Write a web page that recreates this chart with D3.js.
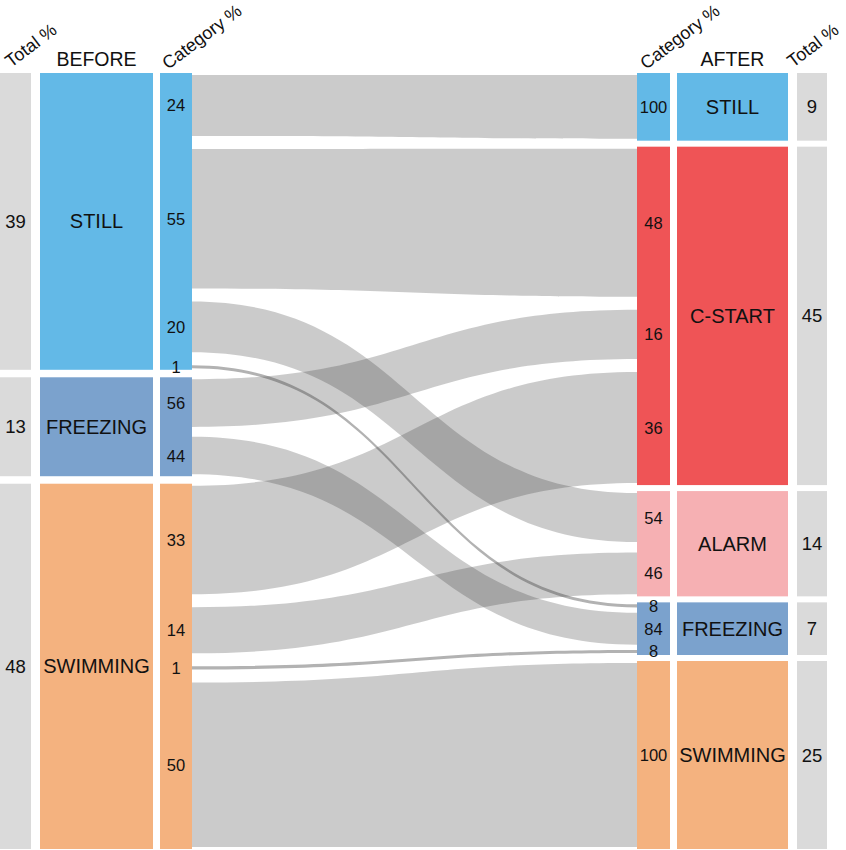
<!DOCTYPE html>
<html>
<head>
<meta charset="utf-8">
<script src="https://cdn.jsdelivr.net/npm/d3@7"></script>
<style>
  html, body { margin: 0; padding: 0; background: #fff; }
  svg { display: block; font-family: "Liberation Sans", Arial, sans-serif; }
</style>
</head>
<body>
<svg id="chart" width="846" height="850"></svg>
<script>
// ---- data ----
const beforeCats = ["STILL", "FREEZING", "SWIMMING"];
const beforeTotals = [39, 13, 48];
const afterCats = ["STILL", "C-START", "ALARM", "FREEZING", "SWIMMING"];
const afterTotals = [9, 45, 14, 7, 25];
const flowSource = ["STILL", "STILL", "STILL", "STILL", "FREEZING", "FREEZING", "SWIMMING", "SWIMMING", "SWIMMING", "SWIMMING"];
const flowTarget = ["STILL", "C-START", "ALARM", "FREEZING", "C-START", "FREEZING", "C-START", "ALARM", "FREEZING", "SWIMMING"];
const sourcePct = [24, 55, 20, 1, 56, 44, 33, 14, 1, 50];
const targetPct = [100, 48, 54, 8, 16, 84, 36, 46, 8, 100];
const headers = { before: "BEFORE", after: "AFTER", total: "Total %", category: "Category %" };

// ---- style ----
const colors = {
  "STILL": "#63b9e7",
  "FREEZING": "#7ba2cd",
  "SWIMMING": "#f4b27f",
  "C-START": "#ef5456",
  "ALARM": "#f6b0b3"
};
const totalColor = "#dadada";
const textColor = "#111";

const svg = d3.select("#chart");
const yTop = 73, yBottom = 849;
const gapL = 7.5, gapR = 6;

const cols = {
  lTotal: [0, 31], before: [40, 153], lCat: [160, 192],
  rCat: [637, 670], after: [677, 788], rTotal: [797, 827]
};

function layoutNodes(cats, totals, gap) {
  const avail = (yBottom - yTop) - gap * (cats.length - 1);
  const y = d3.scaleLinear().domain([0, d3.sum(totals)]).range([0, avail]);
  let acc = yTop;
  return cats.map((c, i) => {
    const h = y(totals[i]);
    const n = { name: c, total: totals[i], y0: acc, y1: acc + h };
    acc += h + gap;
    return n;
  });
}
const leftNodes = layoutNodes(beforeCats, beforeTotals, gapL);
const rightNodes = layoutNodes(afterCats, afterTotals, gapR);

const flows = flowSource.map((s, i) => ({
  source: s, target: flowTarget[i], sPct: sourcePct[i], tPct: targetPct[i]
}));

// position flows inside a node side
function placeFlows(node, list, key, out) {
  const pad = 2;
  const h = node.y1 - node.y0;
  const n = list.length;
  const gap = n > 1 ? Math.min(13, h * 0.1) : 0;
  const avail = h - 2 * pad - gap * (n - 1);
  const sum = d3.sum(list, d => d[key]);
  const w = d3.scaleLinear().domain([0, sum]).range([0, avail]);
  let acc = node.y0 + pad;
  list.forEach(f => {
    const width = Math.max(3, w(f[key]));
    f[out] = [acc, acc + width];
    acc += width + gap;
  });
}
leftNodes.forEach(nd => placeFlows(nd, flows.filter(f => f.source === nd.name), "sPct", "sy"));
rightNodes.forEach(nd => placeFlows(nd, flows.filter(f => f.target === nd.name), "tPct", "ty"));

// ---- flows ----
const x0 = cols.lCat[1], x1 = cols.rCat[0], xm = (x0 + x1) / 2;
function ribbon(f) {
  const p = d3.path();
  p.moveTo(x0, f.sy[0]);
  p.bezierCurveTo(xm, f.sy[0], xm, f.ty[0], x1, f.ty[0]);
  p.lineTo(x1, f.ty[1]);
  p.bezierCurveTo(xm, f.ty[1], xm, f.sy[1], x0, f.sy[1]);
  p.closePath();
  return p.toString();
}
svg.append("g").selectAll("path").data(flows).join("path")
  .attr("d", ribbon)
  .attr("fill", "#3e3e3e")
  .attr("fill-opacity", f => (f.sy[1] - f.sy[0] < 5 ? 0.4 : 0.27));

// ---- node columns ----
function drawCol(nodes, range, fillFn) {
  svg.append("g").selectAll("rect").data(nodes).join("rect")
    .attr("x", range[0]).attr("width", range[1] - range[0])
    .attr("y", d => d.y0).attr("height", d => d.y1 - d.y0)
    .attr("fill", fillFn);
}
drawCol(leftNodes, cols.lTotal, () => totalColor);
drawCol(leftNodes, cols.before, d => colors[d.name]);
drawCol(leftNodes, cols.lCat, d => colors[d.name]);
drawCol(rightNodes, cols.rCat, d => colors[d.name]);
drawCol(rightNodes, cols.after, d => colors[d.name]);
drawCol(rightNodes, cols.rTotal, () => totalColor);

// ---- labels ----
function midX(r) { return (r[0] + r[1]) / 2; }
function labelNodes(nodes, range, textFn, size) {
  svg.append("g").selectAll("text").data(nodes).join("text")
    .attr("x", midX(range)).attr("y", d => (d.y0 + d.y1) / 2)
    .attr("text-anchor", "middle").attr("dominant-baseline", "central")
    .attr("font-size", size).attr("fill", textColor)
    .text(textFn);
}
labelNodes(leftNodes, cols.lTotal, d => d.total, 18.5);
labelNodes(leftNodes, cols.before, d => d.name, 20);
labelNodes(rightNodes, cols.after, d => d.name, 20);
labelNodes(rightNodes, cols.rTotal, d => d.total, 18.5);

svg.append("g").selectAll("text").data(flows).join("text")
  .attr("x", midX(cols.lCat)).attr("y", f => (f.sy[0] + f.sy[1]) / 2)
  .attr("text-anchor", "middle").attr("dominant-baseline", "central")
  .attr("font-size", 16.5).attr("fill", textColor)
  .text(f => f.sPct);
svg.append("g").selectAll("text").data(flows).join("text")
  .attr("x", midX(cols.rCat)).attr("y", f => (f.ty[0] + f.ty[1]) / 2)
  .attr("text-anchor", "middle").attr("dominant-baseline", "central")
  .attr("font-size", 16.5).attr("fill", textColor)
  .text(f => f.tPct);

// ---- headers ----
const hy = 66;
svg.append("text").attr("x", midX(cols.before)).attr("y", hy)
  .attr("text-anchor", "middle").attr("font-size", 19.5).attr("fill", textColor).text(headers.before);
svg.append("text").attr("x", midX(cols.after)).attr("y", hy)
  .attr("text-anchor", "middle").attr("font-size", 19.5).attr("fill", textColor).text(headers.after);
const rotated = [
  { t: headers.total, x: 11, y: 68 },
  { t: headers.category, x: 168, y: 70 },
  { t: headers.category, x: 646, y: 70 },
  { t: headers.total, x: 793, y: 68 }
];
svg.append("g").selectAll("text").data(rotated).join("text")
  .attr("transform", d => `translate(${d.x},${d.y}) rotate(-37)`)
  .attr("font-size", 18).attr("fill", textColor)
  .text(d => d.t);
</script>
</body>
</html>
